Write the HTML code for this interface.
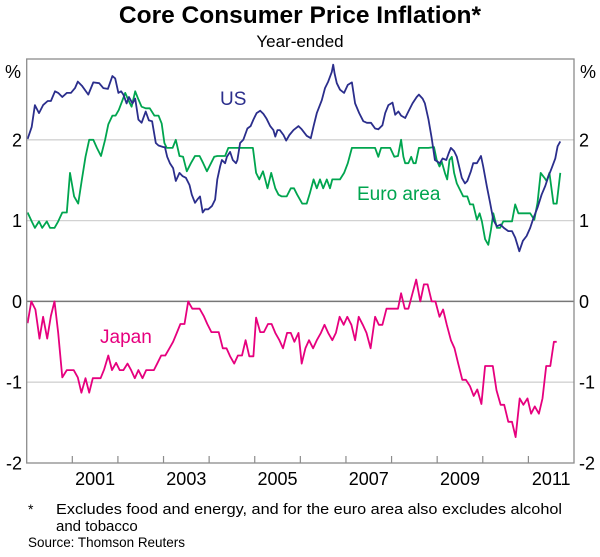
<!DOCTYPE html>
<html><head><meta charset="utf-8">
<style>
html,body{margin:0;padding:0;background:#fff;}
body{width:600px;height:552px;overflow:hidden;font-family:"Liberation Sans",Arial,sans-serif;}
svg text{font-family:"Liberation Sans",Arial,sans-serif;}
</style></head>
<body>
<svg id="chart" width="600" height="552" viewBox="0 0 600 552" xmlns="http://www.w3.org/2000/svg">
<text x="300" y="23" text-anchor="middle" font-size="24.5" font-weight="bold" fill="#000">Core Consumer Price Inflation*</text>
<text x="300" y="47" text-anchor="middle" font-size="17" fill="#000">Year-ended</text>
<g id="grid"></g>
<g id="series"></g>
<rect x="26.7" y="59" width="547.3" height="404" fill="none" stroke="#8c8c8c" stroke-width="1.3"/>
<g id="axes"></g>
<text x="220" y="105" font-size="19" fill="#2b2e8c">US</text>
<text x="357" y="200" font-size="19" fill="#00a54f">Euro area</text>
<text x="100" y="343" font-size="19" fill="#e6007e">Japan</text>
<text x="5" y="78" font-size="18" fill="#000">%</text>
<text x="580" y="78" font-size="18" fill="#000">%</text>
<text x="28" y="514" font-size="14" fill="#000">*</text>
<text x="56" y="514" font-size="15" textLength="506" lengthAdjust="spacingAndGlyphs" fill="#000">Excludes food and energy, and for the euro area also excludes alcohol</text>
<text x="56" y="531" font-size="15" fill="#000">and tobacco</text>
<text x="28" y="547" font-size="14" textLength="157" lengthAdjust="spacingAndGlyphs" fill="#000">Source: Thomson Reuters</text>
</svg>
<script>
const yTicks = [-2, -1, 0, 1, 2];
const xTickYears = [2001,2002,2003,2004,2005,2006,2007,2008,2009,2010,2011];
const xLabels = ["2001","2003","2005","2007","2009","2011"];
const usDates = [0.02,0.11,0.18,0.27,0.36,0.46,0.53,0.62,0.69,0.78,0.88,0.97,1.06,1.12,1.21,1.35,1.46,1.59,1.68,1.78,1.88,1.94,2.01,2.07,2.12,2.19,2.24,2.32,2.38,2.45,2.52,2.61,2.68,2.75,2.83,2.89,3.00,3.03,3.08,3.14,3.21,3.27,3.35,3.42,3.49,3.57,3.62,3.69,3.74,3.80,3.86,3.91,3.98,4.06,4.13,4.18,4.24,4.28,4.35,4.39,4.46,4.52,4.59,4.62,4.68,4.75,4.84,4.91,4.97,5.04,5.12,5.19,5.26,5.34,5.41,5.45,5.50,5.55,5.63,5.69,5.76,5.85,5.96,6.03,6.14,6.23,6.29,6.36,6.47,6.54,6.61,6.69,6.72,6.75,6.80,6.87,6.96,7.04,7.13,7.20,7.29,7.38,7.46,7.55,7.64,7.71,7.80,7.86,7.93,8.02,8.08,8.15,8.21,8.30,8.37,8.46,8.55,8.60,8.68,8.73,8.81,8.88,8.95,9.06,9.12,9.20,9.25,9.30,9.37,9.43,9.49,9.54,9.61,9.66,9.74,9.79,9.87,9.96,10.01,10.09,10.16,10.23,10.31,10.39,10.46,10.56,10.64,10.71,10.76,10.80,10.88,10.96,11.04,11.11,11.20,11.29,11.37,11.44,11.51,11.59,11.64,11.70];
const usValues = [2.01,2.16,2.43,2.33,2.43,2.48,2.48,2.6,2.58,2.53,2.58,2.58,2.64,2.72,2.67,2.56,2.71,2.70,2.64,2.63,2.79,2.76,2.58,2.60,2.56,2.45,2.53,2.45,2.51,2.25,2.21,2.35,2.24,2.23,1.96,1.93,1.91,1.91,1.79,1.71,1.65,1.49,1.59,1.55,1.53,1.44,1.32,1.22,1.26,1.30,1.10,1.14,1.14,1.18,1.26,1.51,1.67,1.75,1.71,1.79,1.85,1.75,1.71,1.75,1.96,2.0,2.14,2.17,2.25,2.33,2.36,2.32,2.26,2.17,2.12,2.04,2.12,2.12,2.06,1.99,2.06,2.12,2.17,2.13,2.05,2.02,2.17,2.33,2.49,2.64,2.72,2.84,2.93,2.82,2.70,2.62,2.58,2.68,2.71,2.45,2.33,2.23,2.21,2.21,2.14,2.13,2.18,2.33,2.43,2.46,2.31,2.35,2.30,2.27,2.35,2.45,2.53,2.56,2.51,2.45,2.25,2.02,1.75,1.71,1.77,1.75,1.83,1.90,1.86,1.79,1.65,1.53,1.46,1.49,1.61,1.71,1.71,1.80,1.67,1.42,1.22,1.01,0.93,0.95,0.91,0.87,0.87,0.79,0.70,0.62,0.75,0.81,0.91,1.03,1.16,1.32,1.43,1.55,1.65,1.77,1.92,1.98];
const euroDates = [0.02,0.11,0.18,0.27,0.34,0.44,0.51,0.61,0.69,0.78,0.88,0.95,1.04,1.13,1.21,1.29,1.37,1.46,1.54,1.63,1.72,1.79,1.88,1.95,2.02,2.10,2.16,2.23,2.30,2.38,2.45,2.52,2.61,2.70,2.80,2.89,2.96,3.02,3.07,3.20,3.27,3.35,3.43,3.51,3.60,3.69,3.79,3.87,3.95,4.04,4.11,4.18,4.28,4.35,4.42,4.52,4.64,4.77,4.90,4.96,5.03,5.10,5.18,5.23,5.28,5.36,5.45,5.52,5.59,5.70,5.79,5.86,5.93,6.04,6.14,6.21,6.29,6.36,6.43,6.50,6.58,6.65,6.70,6.80,6.87,6.96,7.04,7.13,7.24,7.35,7.64,7.71,7.77,7.86,7.97,8.06,8.14,8.21,8.26,8.30,8.37,8.43,8.48,8.53,8.60,8.70,8.81,8.93,8.99,9.05,9.10,9.17,9.22,9.27,9.32,9.37,9.43,9.50,9.57,9.66,9.72,9.79,9.87,9.93,9.98,10.05,10.12,10.18,10.23,10.31,10.38,10.45,10.53,10.64,10.71,10.78,10.89,11.04,11.13,11.20,11.27,11.35,11.40,11.46,11.55,11.62,11.70];
const euroValues = [1.10,0.99,0.91,0.99,0.91,0.99,0.91,0.91,0.99,1.10,1.10,1.59,1.30,1.21,1.51,1.79,2.0,2.0,1.90,1.80,2.0,2.19,2.30,2.30,2.37,2.49,2.58,2.49,2.41,2.60,2.50,2.41,2.39,2.39,2.30,2.30,2.20,1.96,1.90,1.90,2.0,1.80,1.79,1.61,1.71,1.80,1.80,1.71,1.61,1.71,1.79,1.80,1.80,1.80,1.90,1.90,1.90,1.90,1.90,1.90,1.59,1.51,1.61,1.51,1.40,1.59,1.40,1.32,1.30,1.30,1.40,1.40,1.32,1.21,1.21,1.34,1.51,1.40,1.51,1.40,1.51,1.40,1.51,1.51,1.51,1.59,1.71,1.90,1.90,1.90,1.90,1.79,1.90,1.90,1.90,1.79,1.80,2.0,1.79,1.71,1.71,1.79,1.71,1.71,1.90,1.90,1.90,1.91,1.75,1.67,1.73,1.59,1.51,1.75,1.79,1.59,1.46,1.38,1.30,1.30,1.20,1.20,1.01,1.09,0.99,0.77,0.70,0.89,1.09,0.91,0.91,0.99,0.99,0.99,1.20,1.09,1.09,1.09,1.01,1.22,1.59,1.53,1.49,1.59,1.21,1.21,1.59];
const japanDates = [0.02,0.10,0.19,0.28,0.36,0.45,0.53,0.61,0.69,0.78,0.88,1.03,1.12,1.20,1.29,1.37,1.45,1.62,1.70,1.79,1.87,1.96,2.04,2.12,2.21,2.29,2.37,2.45,2.54,2.62,2.79,2.87,2.95,3.04,3.12,3.21,3.29,3.37,3.46,3.54,3.63,3.79,3.88,3.96,4.05,4.21,4.30,4.38,4.46,4.55,4.63,4.72,4.80,4.88,4.97,5.03,5.12,5.20,5.29,5.37,5.45,5.54,5.62,5.71,5.79,5.87,5.96,6.03,6.11,6.19,6.28,6.36,6.45,6.53,6.61,6.70,6.78,6.86,6.95,7.03,7.12,7.20,7.28,7.37,7.45,7.54,7.64,7.72,7.80,7.89,8.14,8.21,8.29,8.37,8.46,8.54,8.63,8.71,8.79,8.88,8.96,9.05,9.13,9.21,9.30,9.38,9.46,9.55,9.63,9.72,9.80,9.88,9.97,10.05,10.22,10.30,10.39,10.47,10.56,10.64,10.72,10.81,10.89,10.98,11.06,11.14,11.23,11.31,11.39,11.48,11.56,11.62];
const japanValues = [-0.27,0,-0.10,-0.46,-0.19,-0.46,-0.18,0,-0.39,-0.94,-0.85,-0.85,-0.94,-1.13,-0.95,-1.13,-0.95,-0.95,-0.84,-0.67,-0.85,-0.76,-0.85,-0.85,-0.77,-0.85,-0.95,-0.85,-0.95,-0.85,-0.85,-0.76,-0.67,-0.67,-0.59,-0.50,-0.39,-0.28,-0.28,0,-0.09,-0.09,-0.18,-0.28,-0.38,-0.38,-0.58,-0.58,-0.68,-0.77,-0.67,-0.67,-0.48,-0.68,-0.68,-0.20,-0.38,-0.38,-0.28,-0.28,-0.39,-0.48,-0.58,-0.39,-0.39,-0.50,-0.39,-0.77,-0.58,-0.48,-0.58,-0.48,-0.39,-0.29,-0.39,-0.48,-0.39,-0.19,-0.29,-0.19,-0.29,-0.48,-0.19,-0.29,-0.39,-0.58,-0.19,-0.29,-0.29,-0.09,-0.09,0.10,-0.09,-0.09,0.10,0.27,0,0.21,0.21,0,0,-0.19,-0.10,-0.29,-0.48,-0.58,-0.77,-0.97,-0.97,-1.05,-1.17,-1.09,-1.27,-0.80,-0.80,-1.10,-1.28,-1.28,-1.49,-1.49,-1.68,-1.20,-1.28,-1.20,-1.39,-1.30,-1.39,-1.20,-0.80,-0.80,-0.50,-0.50];

const NS = "http://www.w3.org/2000/svg";
const X0 = 26.7, X1 = 574, Y0 = 463, Y1 = 59;
const xStart = 2000, xEnd = 2012, vMin = -2, vMax = 3;
function xScale(t){ return X0 + (t - xStart) / (xEnd - xStart) * (X1 - X0); }
function yScale(v){ return Y0 - (v - vMin) / (vMax - vMin) * (Y0 - Y1); }
function mk(tag, attrs, parent){ const e = document.createElementNS(NS, tag); for (const k in attrs) e.setAttribute(k, attrs[k]); parent.appendChild(e); return e; }

const grid = document.getElementById('grid');
const axes = document.getElementById('axes');
const series = document.getElementById('series');
[-1, 0, 1, 2].forEach(v => {
  const l = mk('line', {x1: X0, x2: X1, y1: yScale(v), y2: yScale(v), stroke: v === 0 ? '#777' : '#d2d2d2', 'stroke-width': v === 0 ? 1.5 : 1.3}, grid);
  
  
});
yTicks.forEach(v => {
  const a = mk('text', {x: 22, y: yScale(v) + 6.5, 'text-anchor': 'end', 'font-size': 18, fill: '#000'}, axes);
  a.textContent = String(v);
  
  
  const b = mk('text', {x: 579, y: yScale(v) + 6.5, 'font-size': 18, fill: '#000'}, axes);
  b.textContent = String(v);
  
  
});
xTickYears.forEach(yr => {
  const t = mk('line', {x1: xScale(yr), x2: xScale(yr), y1: Y0, y2: Y0 - 7, stroke: '#8c8c8c', 'stroke-width': 1.2}, axes);
  
  
});
xLabels.forEach(lab => {
  const yr = parseInt(lab, 10);
  const t = mk('text', {x: xScale(yr + 0.5), y: 485, 'text-anchor': 'middle', 'font-size': 18, fill: '#000'}, axes);
  t.textContent = lab;
  
  
});
function drawLine(dates, vals, color, name){
  const d = dates.map((t, i) => (i ? 'L' : 'M') + xScale(xStart + t).toFixed(1) + ',' + yScale(vals[i]).toFixed(1)).join('');
  const p = mk('path', {d: d, fill: 'none', stroke: color, 'stroke-width': 1.8, 'stroke-linejoin': 'round'}, series);
  
  
}
drawLine(euroDates, euroValues, '#00a54f', 'euro-area-line');
drawLine(usDates, usValues, '#2b2e8c', 'us-line');
drawLine(japanDates, japanValues, '#e6007e', 'japan-line');
</script>
</body></html>
